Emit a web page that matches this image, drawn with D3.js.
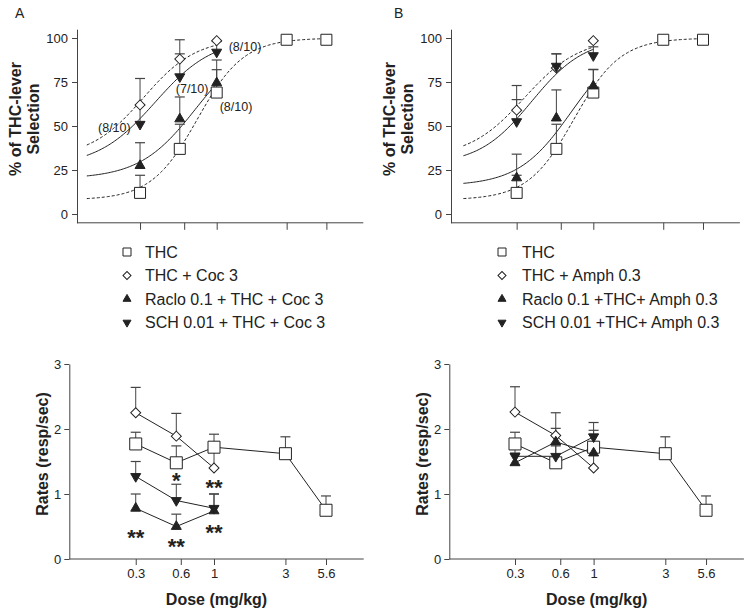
<!DOCTYPE html>
<html>
<head>
<meta charset="utf-8">
<script src="https://cdn.jsdelivr.net/npm/d3@7"></script>
<style>
  body { margin: 0; background: #fff; }
  text { font-family: Arial, "Liberation Sans", sans-serif; fill: #222; }
</style>
</head>
<body>
<div id="chart"></div>
<script>
// doses actually tested, and where the axis ticks sit
const doses = [0.3, 0.56, 1, 3, 5.6];
const doseTicks = [0.3, 0.6, 1, 3, 5.6];
const doseTickLabels = ["0.3", "0.6", "1", "3", "5.6"];
const pctTicks = [0, 25, 50, 75, 100];
const rateTicks = [0, 1, 2, 3];

// % THC-lever selection (top panels)
const thcPct = [12, 37, 69, 99, 99];
const thcPctErr = [10, 14, 13, 0, 0];
const cocPct = [62, 88, 98.5];
const cocPctErr = [15, 11, 0];
const racloCocPct = [27.5, 54, 74.5];
const racloCocPctErr = [13, 12.5, 13];
const schCocPct = [51, 78, 92];
const schCocPctErr = [11, 13, 6];

const amphPct = [59, 83, 98.5];
const amphPctErr = [14, 8, 0];
const racloAmphPct = [20.5, 54.5, 72.7];
const racloAmphPctErr = [13.5, 16, 9.5];
const schAmphPct = [52.5, 84, 90];
const schAmphPctErr = [12.5, 7, 5];

// response rates (bottom panels)
const thcRate = [1.77, 1.48, 1.72, 1.62, 0.75];
const thcRateErr = [0.18, 0.26, 0.2, 0.26, 0.22];
const cocRate = [2.25, 1.89, 1.4];
const cocRateErr = [0.39, 0.35, 0.3];
const racloCocRate = [0.78, 0.5, 0.74];
const racloCocRateErr = [0.22, 0.19, 0.26];
const schCocRate = [1.27, 0.9, 0.78];
const schCocRateErr = [0.23, 0.25, 0.22];

const amphRate = [2.26, 1.9, 1.4];
const amphRateErr = [0.39, 0.35, 0.3];
const racloAmphRate = [1.48, 1.8, 1.63];
const racloAmphRateErr = [0.15, 0.21, 0.35];
const schAmphRate = [1.58, 1.58, 1.88];
const schAmphRateErr = [0.2, 0.2, 0.22];

// sigmoid fits: [bottom, top, logEC50, hill, fromDose, toDose]
const thcFit = [8, 100, -0.131, 2.75, 0.13, 5.6];
const cocFit = [32, 100, -0.5, 2.4, 0.13, 1];
const racloCocFit = [20, 100, -0.141, 2.26, 0.13, 1];
const schCocFit = [27, 100, -0.42, 2.2, 0.13, 1];
const amphFit = [32, 100, -0.47, 2.3, 0.13, 1];
const racloAmphFit = [16, 100, -0.15, 2.4, 0.13, 1];
const schAmphFit = [28, 100, -0.42, 2.4, 0.13, 1];

const legendA = ["THC", "THC + Coc 3", "Raclo 0.1 + THC + Coc 3", "SCH 0.01 + THC + Coc 3"];
const legendB = ["THC", "THC + Amph 0.3", "Raclo 0.1 +THC+ Amph 0.3", "SCH 0.01 +THC+ Amph 0.3"];

const fracLabelsA = [
  {dose: 0.3, value: 49, text: "(8/10)", dx: -42},
  {dose: 0.56, value: 71, text: "(7/10)", dx: -4},
  {dose: 1, value: 95, text: "(8/10)", dx: 12},
  {dose: 1, value: 61, text: "(8/10)", dx: 3}
];
const starsA = [
  {dose: 0.56, value: 1.29, text: "*"},
  {dose: 1, value: 1.19, text: "**"},
  {dose: 0.3, value: 0.41, text: "**"},
  {dose: 0.56, value: 0.28, text: "**"},
  {dose: 1, value: 0.5, text: "**"}
];

const W = 749, H = 613;
const svg = d3.select("#chart").append("svg")
    .attr("width", W)
    .attr("height", H);

const ink = "#222", axisInk = "#444";

// kind: 0 square, 1 diamond, 2 up triangle, 3 down triangle; size = side in px
function marker(kind, size) {
  if (kind === 0) return {d: d3.symbol(d3.symbolSquare, size * size)(), rot: 0};
  if (kind === 1) return {d: d3.symbol(d3.symbolSquare, size * size / 2)(), rot: 45};
  return {d: d3.symbol(d3.symbolTriangle, Math.sqrt(3) / 4 * size * size)(), rot: kind === 2 ? 0 : 180};
}

function drawMarkers(g, pts, kind, size) {
  const m = marker(kind, size);
  g.selectAll(null).data(pts).enter().append("path")
      .attr("d", m.d)
      .attr("transform", p => `translate(${p[0]},${p[1]}) rotate(${m.rot})`)
      .attr("fill", kind >= 2 ? ink : "#fff")
      .attr("stroke", ink)
      .attr("stroke-width", 1);
}

function drawErrors(g, x, y, vals, errs) {
  vals.forEach((v, i) => {
    if (!errs[i]) return;
    const cx = x(doses[i]), y0 = y(v), y1 = y(v + errs[i]);
    g.append("line").attr("x1", cx).attr("x2", cx).attr("y1", y0).attr("y2", y1)
        .attr("stroke", axisInk).attr("stroke-width", 1);
    g.append("line").attr("x1", cx - 5).attr("x2", cx + 5).attr("y1", y1).attr("y2", y1)
        .attr("stroke", axisInk).attr("stroke-width", 1.2);
  });
}

function fitLine(fit) {
  const [b, t, ec, h, d0, d1] = fit;
  const lo = Math.log10(d0), hi = Math.log10(d1);
  return d3.range(lo, hi + 0.005, 0.01).map(l => [Math.pow(10, l), b + (t - b) / (1 + Math.pow(10, (ec - l) * h))]);
}

function yLabel(lines, cx, cy, gap) {
  lines.forEach((s, i) => {
    svg.append("text")
        .attr("transform", `translate(${cx + i * gap},${cy}) rotate(-90)`)
        .attr("text-anchor", "middle")
        .attr("dy", "0.35em")
        .attr("font-size", 16)
        .attr("font-weight", "bold")
        .text(s);
  });
}

function topPanel(opt) {
  const x = d3.scaleLog().domain([0.1, 10]).range(opt.xr);
  const y = d3.scaleLinear().domain([-5, 105]).range([222.8, 29.2]);
  const g = svg.append("g");

  g.append("g").attr("transform", `translate(${opt.ax},0)`)
      .call(d3.axisLeft(y).tickValues(pctTicks).tickSize(5).tickPadding(4).tickSizeOuter(0))
      .call(a => a.selectAll("text").attr("font-size", 13).attr("fill", ink))
      .call(a => a.selectAll("line,path").attr("stroke", axisInk));
  g.append("g").attr("transform", `translate(0,${y(-5)})`)
      .call(d3.axisBottom(x).tickValues(doseTicks).tickFormat("").tickSize(7).tickSizeOuter(0))
      .call(a => a.select(".domain").attr("d", `M${opt.ax},0H${opt.xr[1]}`))
      .call(a => a.selectAll("line,path").attr("stroke", axisInk));

  const line = d3.line().x(d => x(d[0])).y(d => y(d[1]));
  opt.fits.forEach((f, i) => {
    g.append("path").attr("d", line(fitLine(f)))
        .attr("fill", "none").attr("stroke", ink).attr("stroke-width", 1)
        .attr("stroke-dasharray", i < 2 ? "3,2" : null);
  });

  opt.series.forEach(s => drawErrors(g, x, y, s[0], s[1]));
  opt.series.forEach((s, k) => {
    const sz = [11, 10, 10, 10][k];
    drawMarkers(g, s[0].map((v, i) => [x(doses[i]), y(v)]), k, sz);
  });

  (opt.labels || []).forEach(l => {
    g.append("text").attr("x", x(l.dose) + l.dx).attr("y", y(l.value))
        .attr("dy", "0.35em").attr("font-size", 12.5).text(l.text);
  });

  yLabel(["% of THC-lever", "Selection"], opt.ax - 62, 119, 18);
  svg.append("text").attr("x", opt.letter).attr("y", 18).attr("font-size", 14).text(opt.name);

  // legend
  opt.legend.forEach((s, k) => {
    const ly = 252 + k * 23.5;
    const m = marker(k, [8, 8, 8, 8][k]);
    g.append("path").attr("d", m.d)
        .attr("transform", `translate(${opt.lx},${ly}) rotate(${m.rot})`)
        .attr("fill", k >= 2 ? ink : "#fff").attr("stroke", ink);
    g.append("text").attr("x", opt.lx + opt.lgap).attr("y", ly).attr("dy", "0.35em")
        .attr("font-size", 16).text(s);
  });
}

function bottomPanel(opt) {
  const x = d3.scaleLog().domain([0.1, 10]).range(opt.xr);
  const y = d3.scaleLinear().domain([0, 3]).range([559, 364]);
  const g = svg.append("g");

  g.append("g").attr("transform", `translate(${opt.ax},0)`)
      .call(d3.axisLeft(y).tickValues(rateTicks).tickFormat(d3.format("d"))
        .tickSize(5).tickPadding(3).tickSizeOuter(0))
      .call(a => a.selectAll("text").attr("font-size", 13).attr("fill", ink))
      .call(a => a.selectAll("line,path").attr("stroke", axisInk));
  g.append("g").attr("transform", `translate(0,${y(0)})`)
      .call(d3.axisBottom(x).tickValues(doseTicks).tickFormat((d, i) => doseTickLabels[i])
        .tickSize(6).tickPadding(4).tickSizeOuter(0))
      .call(a => a.select(".domain").attr("d", `M${opt.ax},0H${opt.xr[1]}`))
      .call(a => a.selectAll("text").attr("font-size", 13).attr("fill", ink))
      .call(a => a.selectAll("line,path").attr("stroke", axisInk));

  const line = d3.line().x((v, i) => x(doses[i])).y(v => y(v));
  opt.series.forEach(s => {
    g.append("path").attr("d", line(s[0]))
        .attr("fill", "none").attr("stroke", ink).attr("stroke-width", 1);
  });
  opt.series.forEach(s => drawErrors(g, x, y, s[0], s[1]));
  opt.series.forEach((s, k) => {
    const sz = [12, 10, 10, 10][k];
    drawMarkers(g, s[0].map((v, i) => [x(doses[i]), y(v)]), k, sz);
  });

  (opt.stars || []).forEach(s => {
    g.append("text").attr("x", x(s.dose)).attr("y", y(s.value) + 13)
        .attr("text-anchor", "middle").attr("font-size", 22).attr("font-weight", "bold")
        .text(s.text);
  });

  yLabel(["Rates (resp/sec)"], opt.ax - 27, 454, 0);
  svg.append("text").attr("x", (opt.ax + opt.xr[1]) / 2).attr("y", 605)
      .attr("text-anchor", "middle").attr("font-size", 16).attr("font-weight", "bold")
      .text("Dose (mg/kg)");
}

topPanel({
  xr: [70.1, 363.3], ax: 77, letter: 15, name: "A", lx: 127, lgap: 18, legend: legendA,
  fits: [thcFit, cocFit, racloCocFit, schCocFit],
  series: [[thcPct, thcPctErr], [cocPct, cocPctErr], [racloCocPct, racloCocPctErr], [schCocPct, schCocPctErr]],
  labels: fracLabelsA
});
topPanel({
  xr: [446.7, 739.9], ax: 451, letter: 394, name: "B", lx: 502, lgap: 20, legend: legendB,
  fits: [thcFit, amphFit, racloAmphFit, schAmphFit],
  series: [[thcPct, thcPctErr], [amphPct, amphPctErr], [racloAmphPct, racloAmphPctErr], [schAmphPct, schAmphPctErr]]
});
bottomPanel({
  xr: [64.3, 363.7], ax: 69.3,
  series: [[thcRate, thcRateErr], [cocRate, cocRateErr], [racloCocRate, racloCocRateErr], [schCocRate, schCocRateErr]],
  stars: starsA
});
bottomPanel({
  xr: [443.3, 743.9], ax: 449.3,
  series: [[thcRate, thcRateErr], [amphRate, amphRateErr], [racloAmphRate, racloAmphRateErr], [schAmphRate, schAmphRateErr]]
});
</script>
</body>
</html>
